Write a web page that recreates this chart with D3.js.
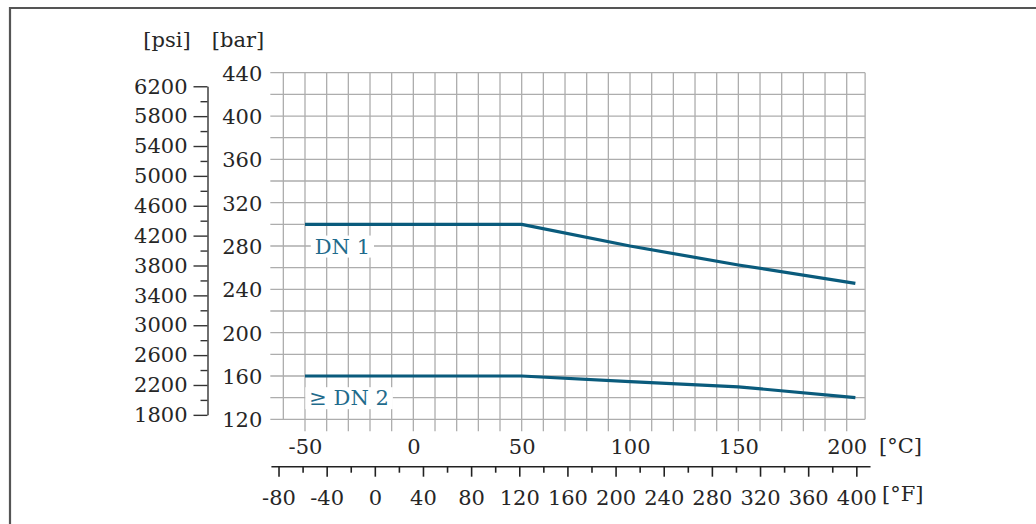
<!DOCTYPE html>
<html>
<head>
<meta charset="utf-8">
<script src="https://cdn.jsdelivr.net/npm/d3@7"></script>
<style>
  body { margin: 0; background: #fff; }
  svg text { font-family: "DejaVu Serif", serif; font-size: 21px; fill: #262626; }
</style>
</head>
<body>
<svg width="1036" height="524"></svg>
<script>
// pressure-temperature curves, temperature in degC, pressure in bar
var tempDN1 = [-50, 50, 100, 150, 204],
    presDN1 = [300, 300, 280, 262.5, 245.5];
var tempDN2 = [-50, 50, 100, 150, 204],
    presDN2 = [160, 160, 154.7, 150, 140];

var seriesLabels = ["DN 1", "\u2265 DN 2"];

var barTicks = [120, 160, 200, 240, 280, 320, 360, 400, 440],
    barGrid  = d3.range(120, 441, 20),
    psiMajor = [1800, 2200, 2600, 3000, 3400, 3800, 4200, 4600, 5000, 5400, 5800, 6200],
    psiMinor = d3.range(2000, 6001, 400),
    cTicks   = [-50, 0, 50, 100, 150, 200],
    cGrid    = d3.range(-60, 201, 10),
    fMajor   = [-80, -40, 0, 40, 80, 120, 160, 200, 240, 280, 320, 360, 400],
    fMinor   = d3.range(-60, 381, 40);

var svg = d3.select("svg");

var x = d3.scaleLinear().domain([-50, 200]).range([305, 846.7]),
    y = d3.scaleLinear().domain([120, 440]).range([419.3, 72.7]);

var PSI = 14.5038;
var psiY = function(p) { return y(p / PSI); };
var fX = function(f) { return x((f - 32) / 1.8); };
var plain = function(d) { return String(d); };   // keep ASCII hyphen for negatives

var lineColor = "#0a5b7c",
    labelColor = "#1f6b8c",
    gridColor = "#adadad";

// frame
svg.append("path")
  .attr("d", "M10,524V8H1036")
  .attr("fill", "none")
  .attr("stroke", "#555")
  .attr("stroke-width", 2.2);

// grid
var grid = svg.append("g").attr("stroke", gridColor).attr("stroke-width", 1.3);

grid.selectAll(".h").data(barGrid).enter().append("line")
  .attr("x1", x(-66)).attr("x2", x(208.5))
  .attr("y1", function(d) { return y(d); })
  .attr("y2", function(d) { return y(d); });

grid.selectAll(".v").data(cGrid).enter().append("line")
  .attr("x1", function(d) { return x(d); })
  .attr("x2", function(d) { return x(d); })
  .attr("y1", y(440))
  .attr("y2", function(d) { return d < -50 ? y(120) : y(109); });

grid.append("line")
  .attr("x1", x(208.5)).attr("x2", x(208.5))
  .attr("y1", y(440)).attr("y2", y(120));

// bar axis (labels only)
var barAxis = svg.append("g")
  .attr("transform", "translate(" + x(-66) + ",0)")
  .call(d3.axisLeft(y).tickValues(barTicks).tickSize(0).tickPadding(8).tickFormat(plain));
barAxis.select(".domain").remove();
barAxis.selectAll("text").attr("dy", "0.36em");

// psi axis
var psiScale = d3.scaleLinear().domain([1800, 6200]).range([psiY(1800), psiY(6200)]);
var psiX = 207.5;

var psiAxis = svg.append("g")
  .attr("transform", "translate(" + psiX + ",0)")
  .call(d3.axisLeft(psiScale).tickValues(psiMajor).tickSize(14).tickSizeOuter(0).tickPadding(6).tickFormat(plain));
psiAxis.selectAll("line").attr("stroke", "#333").attr("stroke-width", 1.4);
psiAxis.select(".domain").attr("stroke", "#333").attr("stroke-width", 1.4);

var psiMinorAxis = svg.append("g")
  .attr("transform", "translate(" + psiX + ",0)")
  .call(d3.axisLeft(psiScale).tickValues(psiMinor).tickSize(7).tickFormat(""));
psiMinorAxis.select(".domain").remove();
psiMinorAxis.selectAll("line").attr("stroke", "#333").attr("stroke-width", 1.4);

// unit headers
svg.append("text").attr("x", 167).attr("y", 47).attr("text-anchor", "middle").text("[psi]");
svg.append("text").attr("x", 238).attr("y", 47).attr("text-anchor", "middle").text("[bar]");

// celsius labels
var cAxis = svg.append("g")
  .attr("transform", "translate(0," + y(120) + ")")
  .call(d3.axisBottom(x).tickValues(cTicks).tickSize(0).tickPadding(20).tickFormat(plain));
cAxis.select(".domain").remove();
cAxis.selectAll("text").attr("dy", "0.71em");
svg.append("text").attr("x", 879).attr("y", 453).text("[\u00b0C]");

// fahrenheit axis
var fScale = d3.scaleLinear().domain([-80, 400]).range([fX(-80), fX(400)]);
var fY = 466.7;

svg.append("line")
  .attr("x1", x(-65.5)).attr("x2", x(211))
  .attr("y1", fY).attr("y2", fY)
  .attr("stroke", "#222").attr("stroke-width", 1.4);

var fAxis = svg.append("g")
  .attr("transform", "translate(0," + fY + ")")
  .call(d3.axisBottom(fScale).tickValues(fMajor).tickSize(10).tickPadding(13).tickFormat(plain));
fAxis.select(".domain").remove();
fAxis.selectAll("line").attr("stroke", "#222").attr("stroke-width", 1.6);

var fMinorAxis = svg.append("g")
  .attr("transform", "translate(0," + fY + ")")
  .call(d3.axisBottom(fScale).tickValues(fMinor).tickSize(6).tickFormat(""));
fMinorAxis.select(".domain").remove();
fMinorAxis.selectAll("line").attr("stroke", "#222").attr("stroke-width", 1.6);

svg.append("text").attr("x", 882).attr("y", 501).text("[\u00b0F]");

// let the stylesheet drive the axis fonts
svg.selectAll("g[font-family]").attr("font-family", null).attr("font-size", null);
svg.selectAll("g.tick text").attr("fill", "#262626");

// curves
var line = d3.line()
  .x(function(d) { return x(d[0]); })
  .y(function(d) { return y(d[1]); });

[[tempDN1, presDN1], [tempDN2, presDN2]].forEach(function(s) {
  svg.append("path")
    .datum(d3.zip(s[0], s[1]))
    .attr("d", line)
    .attr("fill", "none")
    .attr("stroke", lineColor)
    .attr("stroke-width", 3.2)
    .attr("stroke-linejoin", "round");
});

// series labels with white backing
var labelPos = [[-45.5, 280], [-48, 140]];
seriesLabels.forEach(function(t, i) {
  var g = svg.append("g");
  var txt = g.append("text")
    .attr("x", x(labelPos[i][0]))
    .attr("y", y(labelPos[i][1]))
    .attr("dy", "0.36em")
    .style("fill", labelColor)
    .text(t);
  var bb = txt.node().getBBox();
  g.insert("rect", "text")
    .attr("x", bb.x - 4).attr("y", bb.y + 1)
    .attr("width", bb.width + 8).attr("height", bb.height - 2)
    .attr("fill", "#fff");
});
</script>
</body>
</html>
